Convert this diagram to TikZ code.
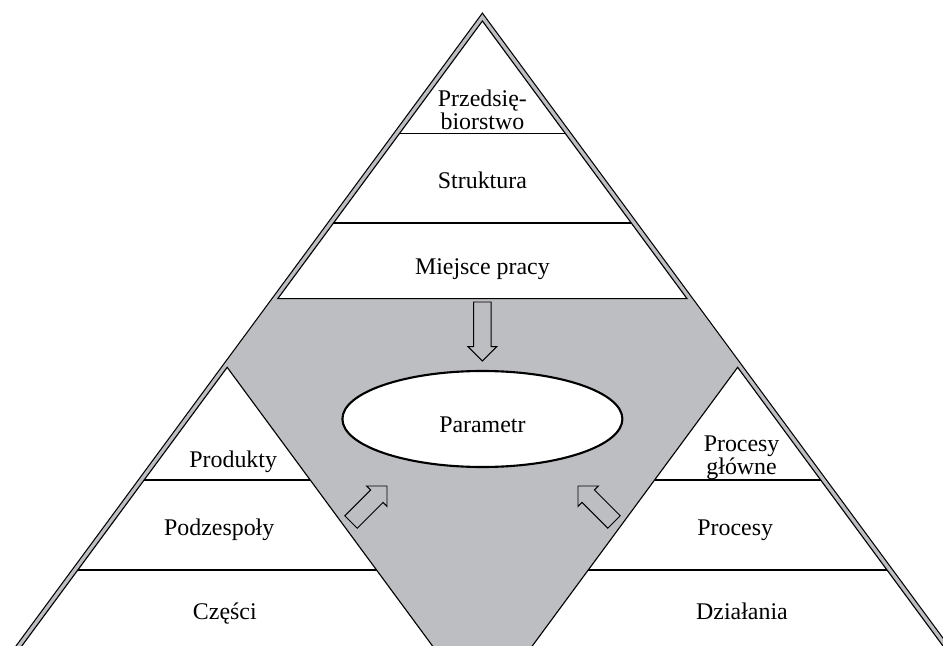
\documentclass[tikz,border=0pt]{standalone}
\usepackage{fontspec}
\setmainfont{Liberation Serif}
\usetikzlibrary{positioning,calc,shapes.geometric}

\definecolor{pyrgray}{RGB}{189,190,194}

\tikzset{
  layertext/.style={font=\fontsize{17}{15}\selectfont, align=center},
  hollow/.style={draw, line width=0.7pt, line join=miter},
  layerline/.style={line width=1.1pt},
}

% hollow block arrow from #1 to #2
\newcommand{\blockarrow}[2]{%
  \coordinate (h) at ($(#2)!0.36cm!(#1)$);
  \draw[hollow] ($(#1)!0.22cm!90:(#2)$) -- ($(h)!0.22cm!90:(#2)$) -- ($(h)!0.36cm!90:(#2)$)
    -- (#2) -- ($(h)!0.36cm!-90:(#2)$) -- ($(h)!0.22cm!-90:(#2)$) -- ($(#1)!0.22cm!-90:(#2)$) -- cycle;
}

\begin{document}
\begin{tikzpicture}[>=stealth]
\useasboundingbox (0,0) rectangle (23.575,16.125);
\clip (0,0) rectangle (23.575,16.125);

% ----------------- Pyramid -----------------
\coordinate (A) at (12.06,15.6);
\coordinate (BL) at (0.563,0);
\coordinate (BR) at (23.557,0);

% double edge: black band, gray on top (runs on below the page)
\draw[line width=0.26cm] ($(A)!1.05!(BL)$) -- (A) -- ($(A)!1.05!(BR)$);
\draw[pyrgray, line width=0.2cm] ($(A)!1.05!(BL)$) -- (A) -- ($(A)!1.05!(BR)$);
\fill[pyrgray] ($(A)!1.05!(BL)$) -- (A) -- ($(A)!1.05!(BR)$) -- cycle;

% ----------------- Top triangle -----------------
\coordinate (TL) at ($(A)!0.445!(BL)$);
\coordinate (TR) at ($(A)!0.445!(BR)$);
\draw[fill=white, line width=0.8pt] (A) -- (TL) -- (TR) -- cycle;
\draw[layerline] (TL) -- (TR);
\draw[layerline] ($(A)!0.405!(TL)$) -- ($(A)!0.405!(TR)$);
\draw[layerline] ($(A)!0.728!(TL)$) -- ($(A)!0.728!(TR)$);

% ----------------- Left triangle -----------------
\coordinate (L) at ($(BL)!0.445!(A)$);
\coordinate (LR) at ($(BL)!0.445!(BR)$);
\fill[white] ($(L)!1.1!(BL)$) -- (L) -- ($(L)!1.1!(LR)$) -- cycle;
\draw[line width=0.8pt] ($(L)!1.1!(BL)$) -- (L) -- ($(L)!1.1!(LR)$);
\draw[layerline] ($(L)!0.405!(BL)$) -- ($(L)!0.405!(LR)$);
\draw[layerline] ($(L)!0.73!(BL)$) -- ($(L)!0.73!(LR)$);

% ----------------- Right triangle -----------------
\coordinate (R) at ($(BR)!0.445!(A)$);
\coordinate (RL) at ($(BR)!0.445!(BL)$);
\fill[white] ($(R)!1.1!(BR)$) -- (R) -- ($(R)!1.1!(RL)$) -- cycle;
\draw[line width=0.8pt] ($(R)!1.1!(BR)$) -- (R) -- ($(R)!1.1!(RL)$);
\draw[layerline] ($(R)!0.405!(RL)$) -- ($(R)!0.405!(BR)$);
\draw[layerline] ($(R)!0.73!(RL)$) -- ($(R)!0.73!(BR)$);

% ----------------- Labels -----------------
\node[layertext] (firm) at (12.06,13.38) {Przedsię-\\biorstwo};
\node[layertext, anchor=base] (struct) at (12.06,11.4) {Struktura};
\node[layertext, anchor=base] (work) at (12.06,9.275) {Miejsce pracy};

\node[layertext, anchor=base] (prod) at (5.83,4.45) {Produkty};
\node[layertext, anchor=base] (subasm) at (5.48,2.75) {Podzespoły};
\node[layertext, anchor=base] (parts) at (5.62,0.65) {Części};

\node[layertext] (mainproc) at (18.54,4.69) {Procesy\\główne};
\node[layertext, anchor=base] (proc) at (18.38,2.75) {Procesy};
\node[layertext, anchor=base] (acts) at (18.55,0.65) {Działania};

\node[ellipse, draw, fill=white, line width=1.5pt, minimum width=7cm, minimum height=2.4cm,
  layertext, text height=0.66cm] (param) at (12.06,5.65) {Parametr};

% ----------------- Arrows -----------------
\coordinate (d0) at (12.06,8.575);
\coordinate (d1) at (12.06,7.1);
\coordinate (l0) at (8.775,3.075);
\coordinate (l1) at (9.675,3.975);
\coordinate (r0) at (15.35,3.075);
\coordinate (r1) at (14.45,3.975);

\blockarrow{d0}{d1}
\blockarrow{l0}{l1}
\blockarrow{r0}{r1}

\end{tikzpicture}
\end{document}
